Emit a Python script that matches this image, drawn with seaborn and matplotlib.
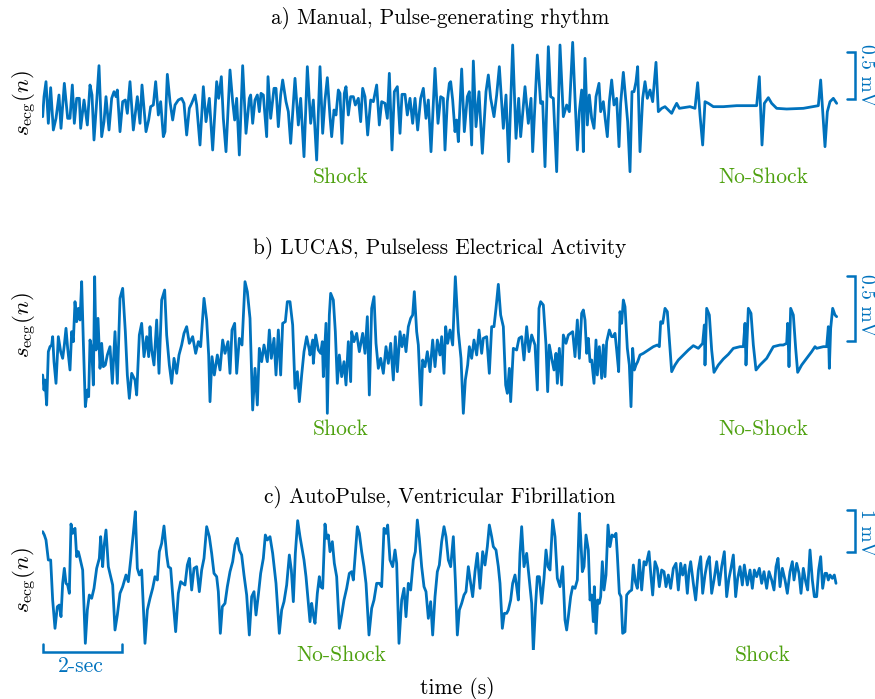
import numpy as np
import pandas as pd
import matplotlib
matplotlib.use("Agg")
import matplotlib.pyplot as plt
import seaborn as sns

# ECG excerpts.
# n = sample index (120 Hz), values in ADC counts, one gain per recording.
FS = 120
GAIN_A, GAIN_B, GAIN_C = 280.0, 390.0, 125.0   # counts per mV

n_a = [2, 6, 12, 19, 26, 34, 42, 51, 57, 67, 77, 84, 91, 97, 104, 112, 116, 126, 136, 144,
       150, 156, 164, 171, 179, 186, 192, 201, 209, 216, 222, 226, 234, 242, 250, 256, 264, 274, 286, 294,
       300, 312, 320, 326, 334, 341, 349, 356, 364, 369, 376, 384, 392, 399, 409, 419, 426, 434, 442, 449,
       459, 464, 474, 484, 492, 502, 512, 524, 530, 538, 544, 552, 564, 572, 578, 584, 592, 602, 612, 622,
       626, 632, 639, 646, 652, 657, 664, 674, 678, 686, 696, 702, 709, 716, 722, 732, 739, 746, 759, 769,
       776, 786, 796,
       806, 814, 824, 834, 842, 849, 856, 864, 869, 876, 882, 889, 894, 900, 907, 912, 919, 926, 934, 940,
       949, 956, 962, 969, 977, 986, 994, 1004, 1012, 1019, 1029, 1036, 1042, 1050, 1057, 1066, 1074, 1080, 1089, 1096,
       1104, 1112, 1119, 1127, 1136, 1144, 1152, 1159, 1167, 1179, 1188, 1196, 1204, 1209, 1216, 1222, 1226, 1232, 1239, 1244,
       1249, 1259, 1267, 1276, 1282, 1289, 1294, 1302, 1311, 1321, 1332, 1339, 1346, 1356, 1364, 1372, 1384, 1392, 1400, 1412,
       1422, 1430, 1436, 1449, 1459, 1467, 1472, 1486, 1496, 1502, 1509, 1519, 1526, 1534, 1544, 1554, 1564, 1574, 1582,
       1592, 1599, 1606, 1612, 1619, 1624, 1629, 1636, 1642, 1649, 1656, 1662, 1671, 1676, 1684, 1690, 1696, 1702, 1709, 1716,
       1724, 1731, 1736, 1744, 1751, 1757, 1764, 1770, 1776, 1782, 1787, 1794, 1802, 1809, 1816, 1824, 1832, 1842, 1849, 1859,
       1869, 1879, 1889, 1896, 1904, 1912, 1924, 1944, 1959, 1967, 1974, 1982, 1989, 1999, 2014, 2044, 2084, 2124, 2144, 2152,
       2160, 2167, 2179, 2189, 2204, 2234, 2284, 2329, 2336, 2344, 2349, 2356, 2364, 2374, 2384]
ecg_a = [-35, 25, 70, -55, 52, -75, -40, 30, -70, 65, -40, -40, 60, -55, 20, 20, -70, 15, -60, 60,
         30, -105, 10, 118, -95, -50, 25, -75, 20, 40, 25, 45, -80, 10, 15, -25, 70, -75, 25, -55,
         60, -80, -45, -5, 0, 70, -30, 10, -95, -80, 92, 10, -45, 0, 15, 20, 5, -90, -10, 5,
         30, 0, -120, 55, -50, 20, -135, 70, 20, 85, -40, -140, 105, 10, -45, 20, -150, 118, -85, 20,
         30, -55, 15, 30, -20, 35, 30, -95, 85, -40, 50, 50, -65, 30, 75, 10, -20, -115, 80, -60,
         20, -155, 115,
         -55, 15, -165, 115, -85, 15, 82, -35, -95, -15, -30, 45, 35, -115, 35, 55, -30, 25, 25, 0,
         20, -50, 50, 25, -90, 15, 10, 60, -60, 10, 5, -40, 95, -135, 40, 55, -85, 32, 32, -30,
         20, -55, 20, -75, 20, 50, -40, 15, -140, 110, -55, 25, 20, -135, 10, 65, 70, 15, -80, -45,
         -110, 108, -80, 25, 40, -120, 132, -65, 40, -145, 40, 90, 20, -35, 30, 115, -70, 30, -170, 180,
         -100, 20, -95, 55, -55, 20, -140, 150, 5, 10, -185, 175, 25, 20, -200, 180, -35, 0, -20,
         188, 20, -135, -20, 45, -140, 140, -60, 30, -40, -70, 25, 65, -20, 10, -45, -95, 10, 75, 0,
         20, -125, 5, 98, 20, -50, -200, 40, 40, 70, 115, -140, 20, 70, 20, 45, 10, 128, -20, -10,
         -5, -15, -25, -10, 5, -10, -8, -5, -10, 67, -30, -120, 10, 5, -5, -5, -2, -2, -2, 85,
         -120, 5, 22, 5, -10, -12, -10, -2, 75, -50, -125, -20, 10, 20, 5]

n_b = [2, 6, 9, 14, 19, 24, 29, 32, 36, 42, 49, 56, 62, 67, 72, 77, 84, 89, 94, 99,
       104, 109, 114, 119, 124, 130, 136, 140, 144, 149, 154, 158, 162, 168, 174, 179, 184, 190, 196, 204,
       211, 219, 226, 234, 242, 250, 256, 262, 269, 279, 284, 292, 299, 306, 314, 320, 324, 329, 336, 344,
       351, 359, 368, 374, 382, 389, 396, 404, 411, 419, 426, 434, 442, 452, 461, 469, 476, 486, 494, 500,
       504, 510, 517, 526, 534, 542, 549, 558, 564, 570, 578, 584, 592, 600, 609, 616, 624, 632, 639, 646,
       652, 659, 666, 676, 682, 688, 696, 702, 709, 716, 722, 730, 736, 744, 752, 759, 766, 772, 779, 786,
       794, 802,
       804, 812, 814, 821, 829, 836, 841, 844, 852, 856, 862, 866, 874, 880, 886, 892, 899, 906, 912, 919,
       926, 929, 936, 944, 952, 962, 969, 976, 982, 989, 996, 1002, 1009, 1016, 1024, 1032, 1039, 1046, 1054, 1060,
       1066, 1074, 1080, 1086, 1092, 1099, 1106, 1112, 1117, 1124, 1129, 1137, 1142, 1149, 1156, 1164, 1172, 1179, 1186, 1194,
       1199, 1206, 1211, 1217, 1224, 1232, 1240, 1249, 1257, 1264, 1270, 1277, 1282, 1289, 1296, 1304, 1311, 1319, 1324, 1334,
       1342, 1349, 1356, 1362, 1369, 1376, 1384, 1391, 1396, 1402, 1406, 1414, 1424, 1431, 1439, 1446, 1454, 1461, 1469, 1479,
       1486, 1491, 1496, 1504, 1512, 1517, 1522, 1529, 1536, 1542, 1546, 1552, 1559, 1564, 1572, 1579,
       1592, 1599, 1606, 1612, 1619, 1624, 1629, 1634, 1639, 1644, 1649, 1656, 1662, 1666, 1672, 1679, 1684, 1689, 1694, 1702,
       1709, 1714, 1719, 1724, 1730, 1734, 1739, 1744, 1749, 1756, 1762, 1767, 1772, 1777, 1782, 1787, 1794, 1804, 1819, 1834,
       1846, 1852, 1856, 1862, 1869, 1876, 1884, 1889, 1899, 1909, 1924, 1939, 1954, 1969, 1982, 1987, 1989, 1994, 2002, 2009,
       2016, 2029, 2044, 2059, 2074, 2094, 2104, 2109, 2112, 2119, 2127, 2134, 2142, 2154, 2174, 2194, 2214, 2224, 2234, 2237,
       2241, 2246, 2254, 2261, 2267, 2279, 2294, 2309, 2319, 2324, 2344, 2354, 2359, 2362, 2366, 2372, 2379, 2384]
ecg_b = [-120, -165, -135, -210, -50, -35, -30, -5, -80, -145, -5, -50, -70, -30, 20, -40, -105, 10, -20, 100,
         40, 80, 45, 160, -20, -215, -165, -185, -15, -40, -150, 175, -45, 50, -100, -25, -95, -90, -60, -35,
         -145, 10, -145, 110, 140, 10, -120, -190, -115, -135, -180, 0, 35, -65, -5, -65, 25, -45, -90, 45,
         -115, 105, 135, 0, -90, -145, -70, -115, -60, -30, 5, 25, -25, -5, -55, -20, -35, 110, 45, -60,
         -200, -65, -120, -60, -105, -15, -55, -20, -115, 15, 35, -115, -10, -30, 160, 130, 50, -225, -100, -210,
         -40, -80, -30, -80, 15, -70, -10, -120, 15, -120, 35, 40, 100, 100, 30, -160, -110, -200, -120, -50,
         -5, -45,
         -60, -15, -85, 0, -45, -55, -20, -125, 35, -235, 60, 125, 105, 10, -145, -60, -125, -80, -150, -20,
         -140, 10, -20, 5, -50, 5, -55, 55, -180, 80, 115, -25, -100, -70, -115, -35, -85, -25, -135, -5,
         -110, 10, -35, 0, -50, 25, 50, 60, 130, 10, -30, -210, -75, -95, -50, -110, -15, -95, -15, -60,
         -5, -115, 25, -25, 15, -30, 175, 10, -70, -235, -135, -90, -35, -70, -15, -60, 15, -55, -10, -5,
         -115, 25, 25, 80, 152, 60, 25, -150, -175, -100, -200, -40, -45, -10, -5, -75, 25, -50, 0, -30,
         -165, 80, 100, 90, -30, -170, -30, -70, -105, -55, -145, -40, -150, 0, -25, 0,
         10, -65, 45, -70, 65, 75, 45, -55, -10, -80, -75, -145, -15, -120, -35, -130, -30, -125, -20, 15,
         -5, -5, 5, -45, -110, 70, 35, 105, 85, -40, -90, -215, -40, -105, -90, -80, -60, -55, -45, -35,
         -30, -35, 40, 35, 80, 70, -40, -110, -90, -75, -60, -45, -32, -40, -25, 30, -90, 80, 60, -45,
         -112, -90, -72, -58, -40, -35, -35, 35, -90, 80, 65, -30, -105, -90, -70, -35, -30, -30, -25, 35,
         -95, 80, 60, -40, -112, -90, -70, -50, -35, -40, -35, -35, 25, -100, 20, 80, 60, 55]

n_c = [2, 7, 12, 19, 26, 32, 39, 46, 52, 57, 62, 67, 72, 77, 82, 87, 92, 99, 104, 109,
       114, 122, 130, 136, 142, 149, 156, 164, 172, 176, 182, 186, 192, 199, 206, 212, 219, 226, 234, 242,
       252, 259, 266, 274, 280, 286, 292, 299, 309, 316, 324, 332, 339, 346, 352, 359, 366, 374, 379, 386,
       394, 401, 409, 416, 422, 429, 436, 442, 449, 456, 464, 472, 479, 486, 494, 502, 509, 516, 524, 529,
       535, 541, 549, 556, 564, 572, 579, 586, 592, 599, 606, 614, 622, 629, 636, 642, 649, 656, 664, 670,
       676, 684, 692, 702, 712, 719, 726, 734, 742, 748, 754, 760, 767, 774,
       786, 792, 799, 804, 809, 814, 819, 826, 832, 836, 842, 849, 854, 859, 864, 871, 877, 884, 892, 899,
       906, 914, 922, 929, 934, 939, 946, 952, 959, 966, 972, 981, 989, 996, 1004, 1012, 1019, 1026, 1032, 1037,
       1044, 1052, 1059, 1064, 1071, 1079, 1086, 1092, 1099, 1106, 1114, 1120, 1126, 1132, 1139, 1146, 1152, 1159, 1166, 1172,
       1179, 1186, 1192, 1199, 1206, 1212, 1219, 1226, 1234, 1240, 1246, 1252, 1259, 1266, 1272, 1279, 1286, 1292, 1299, 1306,
       1314, 1322, 1329, 1336, 1342, 1349, 1354, 1362, 1369, 1374, 1381, 1387, 1394, 1399, 1406, 1412, 1419, 1424, 1429, 1434,
       1439, 1446, 1454, 1462, 1469, 1474, 1481, 1486, 1492, 1499, 1506, 1512, 1518, 1524, 1532, 1539, 1546, 1554, 1562, 1569,
       1574, 1579, 1586, 1592, 1599, 1606, 1612,
       1616, 1621, 1626, 1632, 1639, 1644, 1649, 1654, 1657, 1662, 1667, 1672, 1676, 1681, 1686, 1692, 1698, 1704, 1710, 1717,
       1722, 1726, 1732, 1737, 1742, 1749, 1754, 1762, 1769, 1774, 1780, 1786, 1792, 1799, 1806, 1812, 1821, 1827, 1832, 1839,
       1846, 1852, 1859, 1866, 1872, 1879, 1886, 1894, 1902, 1909, 1916, 1922, 1929, 1936, 1941, 1946, 1954, 1961, 1969, 1976,
       1982, 1989, 1996, 2002, 2009, 2016, 2024, 2032, 2039, 2047, 2054, 2061, 2067, 2074, 2081, 2087, 2094, 2101, 2107, 2116,
       2124, 2131, 2137, 2144, 2152, 2159, 2166, 2174, 2181, 2189, 2196, 2202, 2208, 2214, 2221, 2229, 2236, 2244, 2251, 2256,
       2264, 2271, 2277, 2284, 2291, 2297, 2304, 2311, 2317, 2324, 2330, 2336, 2342, 2349, 2354, 2359, 2364, 2371, 2377, 2382]
ecg_c = [145, 135, 120, 60, 60, -60, -145, -80, -75, -110, -10, 35, -10, -15, -40, 168, 140, 155, 70, 85,
         65, 30, -190, -90, -45, -55, -25, 35, 65, 130, 40, 100, 150, 40, 10, -15, -150, -105, -40, -20,
         15, -5, 60, 140, 205, 35, 15, 30, -190, -90, -55, -25, 10, 0, 85, 110, 162, 75, 40, 35,
         -70, -155, -40, -5, -10, -15, 45, 65, -30, 35, 40, -35, 30, 65, 160, 130, 80, 20, 10, -35,
         -160, -80, -70, -20, 25, 55, 105, 125, 90, 75, 15, -45, -165, -50, -35, -105, -45, 20, 65, 135,
         120, 130, 80, -10, -160, -90, -65, -15, 75, 30, -65, 80, 178, 130,
         60, 10, -70, -125, -70, -105, -130, -40, 10, -20, -25, 168, 125, 135, 85, 115, 50, 10, -145, -105,
         -60, -25, 20, 25, 0, 65, 160, 140, 85, 40, -10, -165, -85, -60, -10, -10, -20, 155, 140, 165,
         60, 40, 90, 50, -190, -60, -25, -110, -10, -30, 60, 85, 180, 125, 40, -20, -35, -115, -65, -165,
         -50, 25, 45, 115, 160, 130, 60, 40, 130, 0, -165, -90, -70, -45, -35, 40, -10, -50, 25, 80,
         -25, 85, 45, 100, 165, 130, 100, 90, 40, -10, -145, -100, -100, -90, -60, -10, 15, -20, -60, 80,
         160, 40, 80, 0, -70, -215, -70, 10, 10, -70, 5, 90, 40, 30, 180, 130, 5, -20, 40, -120,
         -150, -110, -50, -20, -25, 0, 200,
         130, 25, 40, 135, 90, -60, -45, -125, -20, -160, -60, -70, -50, 55, -30, 15, 165, 100, 135, 130,
         140, 75, -40, -50, -160, -155, -45, -35, -30, 45, -5, -25, 60, -30, 55, 45, 85, 10, -45, 55,
         35, -20, 30, 25, -20, 15, -25, 35, 50, -30, 50, 15, 45, -40, 25, 55, -10, -60, 30, 70,
         -40, 15, 55, 70, -40, 0, 55, -15, 40, 85, -50, 5, 35, 75, -50, 5, 40, -15, 45, -15,
         30, -25, 30, 10, 35, -10, 25, -25, 25, 0, -30, 40, 65, -20, 35, 0, -40, 25, 55, 0,
         50, 20, -40, 35, -5, -30, 90, 0, -50, -50, 30, 70, -25, 20, 20, 0, 15, 5, 15, -10]

titles = ["a) Manual, Pulse-generating rhythm",
          "b) LUCAS, Pulseless Electrical Activity",
          "c) AutoPulse, Ventricular Fibrillation"]
labels_left = ["Shock", "Shock", "No-Shock"]
labels_right = ["No-Shock", "No-Shock", "Shock"]
scale_text = ["0.5 mV", "0.5 mV", "1 mV"]
scale_mv = [0.5, 0.5, 1.0]

BLUE = "#0072BD"
GREEN = "#4ea10f"
W, H = 875, 699

sns.set_style("white")
plt.rcParams["font.family"] = ["cmr10", "DejaVu Serif"]
plt.rcParams["mathtext.fontset"] = "cm"
plt.rcParams["axes.unicode_minus"] = False
plt.rcParams["text.color"] = "black"

fig = plt.figure(figsize=(W / 100, H / 100), dpi=100)


def fx(x):
    return x / W


def fy(y):
    return 1 - y / H


# panel geometry in pixels and bracket top in counts
panels = [
    dict(n=n_a, s=ecg_a, gain=GAIN_A, top=35, bot=175, ylim=(-210, 210), br_top=159,
         ty=18, ly=177, yl=103),
    dict(n=n_b, s=ecg_b, gain=GAIN_B, top=265, bot=415, ylim=(-240, 210), br_top=177,
         ty=248, ly=429, yl=325),
    dict(n=n_c, s=ecg_c, gain=GAIN_C, top=500, bot=650, ylim=(-210, 240), br_top=210,
         ty=497, ly=655, yl=580),
]

for i, p in enumerate(panels):
    ax = fig.add_axes([fx(42), fy(p["bot"]), fx(800), (p["bot"] - p["top"]) / H])
    df = pd.DataFrame({"t": np.array(p["n"]) / FS, "mv": np.array(p["s"]) / p["gain"]})
    sns.lineplot(data=df, x="t", y="mv", ax=ax, color=BLUE, lw=2.0,
                 sort=False, estimator=None)
    ax.set_xlim(0, 20)
    ax.set_ylim(p["ylim"][0] / p["gain"], p["ylim"][1] / p["gain"])
    ax.set_xticks([])
    ax.set_yticks([])
    ax.set_xlabel("")
    ax.set_ylabel("")
    sns.despine(ax=ax, left=True, bottom=True)
    ax.patch.set_alpha(0)

    # amplitude scale bracket
    yt = p["br_top"] / p["gain"]
    yb = yt - scale_mv[i]
    ax.plot([20.12, 20.33, 20.33, 20.12], [yt, yt, yb, yb], color=BLUE, lw=1.8,
            clip_on=False, solid_joinstyle="miter")
    fig.text(fx(866), fy(p["top"] + 9), scale_text[i], color=BLUE, fontsize=14,
             rotation=-90, ha="center", va="top")

    fig.text(fx(440), fy(p["ty"]), titles[i], fontsize=15.3, ha="center", va="center")
    fig.text(fx(25), fy(p["yl"]), r"$s_{\mathrm{ecg}}(n)$", fontsize=16.5,
             rotation=90, ha="center", va="center")
    fig.text(fx(341), fy(p["ly"]), labels_left[i], color=GREEN, fontsize=15.5,
             ha="center", va="center")
    fig.text(fx(763), fy(p["ly"]), labels_right[i], color=GREEN, fontsize=15.5,
             ha="center", va="center")

    if i == 2:
        # 2-second time scale
        ax.plot([0.02, 0.02, 2.0, 2.0], [-1.54, -1.73, -1.73, -1.54], color=BLUE, lw=1.8,
                clip_on=False, solid_joinstyle="miter")
        fig.text(fx(81), fy(666), "2-sec", color=BLUE, fontsize=15.5, ha="center", va="center")

fig.text(fx(457), fy(688), "time (s)", fontsize=15.5, ha="center", va="center")

fig.savefig("out.png", dpi=100)
